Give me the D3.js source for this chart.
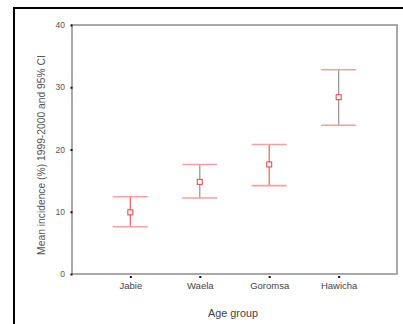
<!DOCTYPE html>
<html>
<head>
<meta charset="utf-8">
<script src="https://cdn.jsdelivr.net/npm/d3@7"></script>
<style>
  html, body { margin: 0; padding: 0; background: #fff; }
  svg { display: block; font-family: Arial, "Liberation Sans", sans-serif; }
</style>
</head>
<body>
<svg id="chart" width="403" height="324"></svg>
<script>
// data
const groups = ['Jabie', 'Waela', 'Goromsa', 'Hawicha'];
const means = [9.9, 14.8, 17.6, 28.4];
const lower = [7.6, 12.2, 14.2, 23.9];
const upper = [12.4, 17.6, 20.8, 32.8];
const yTicks = [0, 10, 20, 30, 40];
const stemColors = ['#f06868', '#9a9a9a', '#f06868', '#9a9a9a'];

const svg = d3.select('#chart');

// outer frame (only left and top edges visible)
svg.append('line').attr('x1', 14).attr('x2', 14).attr('y1', 7).attr('y2', 324)
  .attr('stroke', '#000').attr('stroke-width', 2);
svg.append('line').attr('x1', 13).attr('x2', 403).attr('y1', 8).attr('y2', 8)
  .attr('stroke', '#000').attr('stroke-width', 2);

const margin = { top: 25, left: 72, right: 6, bottom: 50 };
const width = 403, height = 324;
const innerW = width - margin.left - margin.right;
const innerH = height - margin.top - margin.bottom;

const grp = svg.append('g')
  .attr('transform', 'translate(' + margin.left + ',' + margin.top + ')');

const xScale = d3.scalePoint().domain(groups).range([0, innerW]).padding(0.84);
const yScale = d3.scaleLinear().domain([0, 40]).range([innerH, 0]);

// plot box
grp.append('rect')
  .attr('x', 0).attr('y', 0).attr('width', innerW).attr('height', innerH)
  .attr('fill', 'none').attr('stroke', '#a0a0a0').attr('stroke-width', 1.8);

// y axis
const yAxis = grp.append('g')
  .call(d3.axisLeft(yScale).tickValues(yTicks).tickSize(0).tickPadding(7));
yAxis.select('.domain').remove();
yAxis.selectAll('text').attr('fill', '#555').attr('font-size', 8.5);
yAxis.selectAll('.tick').append('rect')
  .attr('x', -1.5).attr('y', -1).attr('width', 2).attr('height', 2).attr('fill', '#111');

// x axis
const xAxis = grp.append('g')
  .attr('transform', `translate(0,${innerH})`)
  .call(d3.axisBottom(xScale).tickSize(0).tickPadding(8));
xAxis.select('.domain').remove();
xAxis.selectAll('text').attr('fill', '#444').attr('font-size', 9.5);
xAxis.selectAll('.tick').append('rect')
  .attr('x', -1).attr('y', 2).attr('width', 2).attr('height', 2).attr('fill', '#111');

// axis titles
svg.append('text')
  .attr('transform', 'translate(45,155) rotate(-90)')
  .attr('text-anchor', 'middle')
  .attr('fill', '#555').attr('font-size', 10.3)
  .text('Mean incidence (%) 1999-2000 and 95% CI');

svg.append('text')
  .attr('x', 233).attr('y', 317)
  .attr('text-anchor', 'middle')
  .attr('fill', '#444').attr('font-size', 10.8)
  .text('Age group');

// error bars
const capW = 35;
const bars = grp.selectAll('.bar')
  .data(groups)
  .enter()
  .append('g')
  .attr('class', 'bar')
  .attr('transform', (d) => `translate(${xScale(d)},0)`);

bars.append('line')
  .attr('y1', (d, i) => yScale(lower[i]))
  .attr('y2', (d, i) => yScale(upper[i]))
  .attr('stroke', (d, i) => stemColors[i])
  .attr('stroke-width', 1.3);

bars.append('line')
  .attr('x1', -capW / 2).attr('x2', capW / 2)
  .attr('y1', (d, i) => yScale(upper[i]))
  .attr('y2', (d, i) => yScale(upper[i]))
  .attr('stroke', '#f7a0a0').attr('stroke-width', 1.6);

bars.append('line')
  .attr('x1', -capW / 2).attr('x2', capW / 2)
  .attr('y1', (d, i) => yScale(lower[i]))
  .attr('y2', (d, i) => yScale(lower[i]))
  .attr('stroke', '#f7a0a0').attr('stroke-width', 1.6);

bars.append('rect')
  .attr('x', -2.5).attr('width', 5).attr('height', 5)
  .attr('y', (d, i) => yScale(means[i]) - 2.5)
  .attr('fill', '#fff').attr('stroke', '#ee3b3b').attr('stroke-width', 1);
</script>
</body>
</html>
